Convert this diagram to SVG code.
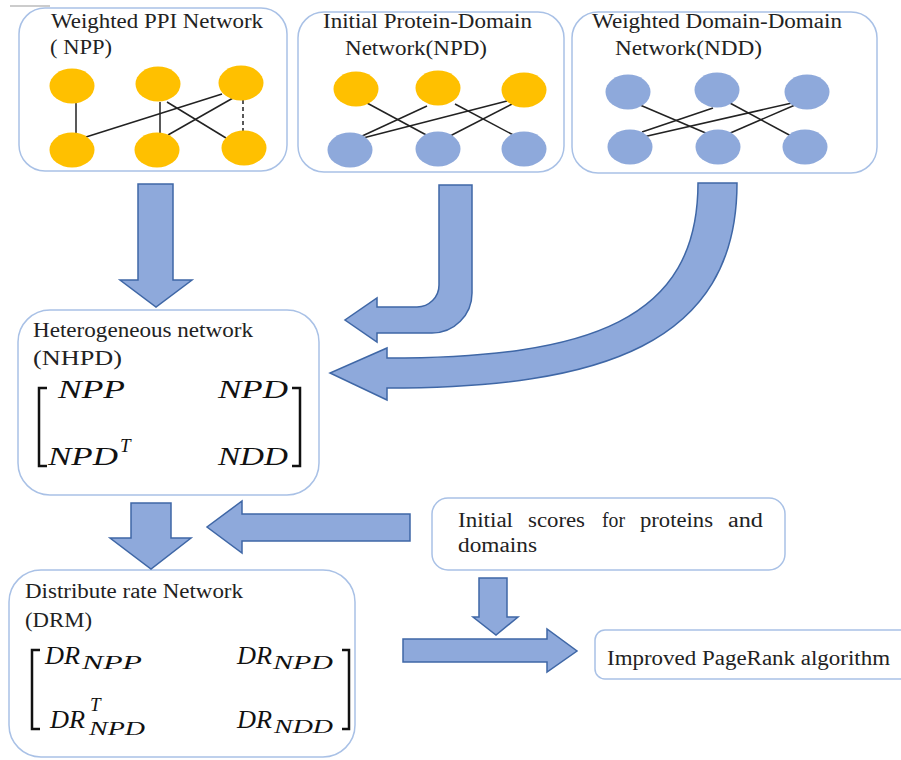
<svg xmlns="http://www.w3.org/2000/svg" width="901" height="760" viewBox="0 0 901 760">
<defs>
<style>
.box{fill:#fff;stroke:#A9C1E6;stroke-width:1.5}
.t{font-family:"Liberation Serif","Times New Roman",serif;font-size:20px;fill:#222}
.m{font-family:"Liberation Serif","Times New Roman",serif;font-style:italic;font-size:26px;fill:#111}
.s{font-family:"Liberation Serif","Times New Roman",serif;font-style:italic;font-size:19px;fill:#111}
.y{fill:#FFC000}
.b{fill:#8EA9DB}
.e{stroke:#222;stroke-width:1.5;fill:none}
.arr{fill:#8EA9DB;stroke:#3F67A6;stroke-width:1.5;stroke-linejoin:miter}
.br{fill:none;stroke:#111;stroke-width:2.5}
</style>
</defs>
<rect width="901" height="760" fill="#fff"/>
<line x1="10" y1="6" x2="50" y2="6" stroke="#999" stroke-width="1"/>

<g id="npp">
<rect class="box" x="19" y="8" width="268" height="163" rx="26"/>
<text class="t" x="51" y="28" textLength="212" lengthAdjust="spacingAndGlyphs">Weighted PPI Network</text>
<text class="t" x="50" y="54" textLength="62" lengthAdjust="spacingAndGlyphs">( NPP)</text>
<g class="e">
<line x1="76" y1="103" x2="76" y2="134"/>
<line x1="86" y1="137" x2="222" y2="94"/>
<line x1="160" y1="102" x2="160" y2="135"/>
<line x1="167" y1="102" x2="226" y2="138"/>
<line x1="168" y1="135" x2="233" y2="98"/>
<line x1="243" y1="100" x2="243" y2="133" stroke-dasharray="4,3"/>
</g>
<ellipse class="y" cx="72" cy="86" rx="22.5" ry="17.5"/>
<ellipse class="y" cx="158" cy="84" rx="22.5" ry="17.5"/>
<ellipse class="y" cx="241" cy="83" rx="22.5" ry="17.5"/>
<ellipse class="y" cx="72" cy="150" rx="22.5" ry="17.5"/>
<ellipse class="y" cx="157" cy="150" rx="22.5" ry="17.5"/>
<ellipse class="y" cx="244" cy="148" rx="22.5" ry="17.5"/>
</g>

<g id="npd">
<rect class="box" x="298" y="12" width="266" height="160" rx="26"/>
<text class="t" x="323" y="28" textLength="209" lengthAdjust="spacingAndGlyphs">Initial Protein-Domain</text>
<text class="t" x="345" y="55" textLength="142" lengthAdjust="spacingAndGlyphs">Network(NPD)</text>
<g class="e">
<line x1="367" y1="103" x2="430" y2="137"/>
<line x1="427" y1="106" x2="360" y2="137"/>
<line x1="455" y1="104" x2="517" y2="137"/>
<line x1="507" y1="101" x2="363" y2="138"/>
<line x1="512" y1="104" x2="448" y2="137"/>
</g>
<ellipse class="y" cx="356" cy="89" rx="22.5" ry="17.5"/>
<ellipse class="y" cx="438" cy="88" rx="22.5" ry="17.5"/>
<ellipse class="y" cx="524" cy="90" rx="22.5" ry="17.5"/>
<ellipse class="b" cx="350" cy="150" rx="22.5" ry="17.5"/>
<ellipse class="b" cx="438" cy="149" rx="22.5" ry="17.5"/>
<ellipse class="b" cx="524" cy="149" rx="22.5" ry="17.5"/>
</g>

<g id="ndd">
<rect class="box" x="572" y="12" width="305" height="161" rx="26"/>
<text class="t" x="592" y="28" textLength="250" lengthAdjust="spacingAndGlyphs">Weighted Domain-Domain</text>
<text class="t" x="615" y="55" textLength="147" lengthAdjust="spacingAndGlyphs">Network(NDD)</text>
<g class="e">
<line x1="640" y1="105" x2="708" y2="134"/>
<line x1="713" y1="108" x2="642" y2="132"/>
<line x1="728" y1="102" x2="793" y2="137"/>
<line x1="792" y1="103" x2="643" y2="137"/>
<line x1="795" y1="105" x2="728" y2="134"/>
</g>
<ellipse class="b" cx="628" cy="92" rx="22.5" ry="17.5"/>
<ellipse class="b" cx="717" cy="90" rx="22.5" ry="17.5"/>
<ellipse class="b" cx="807" cy="92" rx="22.5" ry="17.5"/>
<ellipse class="b" cx="630" cy="147" rx="22.5" ry="17.5"/>
<ellipse class="b" cx="718" cy="147" rx="22.5" ry="17.5"/>
<ellipse class="b" cx="805" cy="147" rx="22.5" ry="17.5"/>
</g>

<g id="nhpd">
<rect class="box" x="18" y="310" width="301" height="185" rx="32"/>
<text class="t" x="33" y="337" textLength="220" lengthAdjust="spacingAndGlyphs">Heterogeneous network</text>
<text class="t" x="33" y="365" textLength="89" lengthAdjust="spacingAndGlyphs">(NHPD)</text>
<path class="br" d="M47,388 H39 V466 H47"/>
<path class="br" d="M292,388 H300 V466 H292"/>
<text class="m" x="58" y="398" textLength="67" lengthAdjust="spacingAndGlyphs">NPP</text>
<text class="m" x="218" y="398" textLength="70" lengthAdjust="spacingAndGlyphs">NPD</text>
<text class="m" x="48" y="465" textLength="70" lengthAdjust="spacingAndGlyphs">NPD</text>
<text class="s" x="120" y="452" font-size="17">T</text>
<text class="m" x="218" y="465" textLength="70" lengthAdjust="spacingAndGlyphs">NDD</text>
</g>

<g id="scores">
<rect class="box" x="432" y="498" width="353" height="72" rx="16"/>
<text class="t" x="458" y="527" textLength="55" lengthAdjust="spacingAndGlyphs">Initial</text>
<text class="t" x="528" y="527" textLength="57" lengthAdjust="spacingAndGlyphs">scores</text>
<text class="t" x="602" y="527" textLength="23" lengthAdjust="spacingAndGlyphs">for</text>
<text class="t" x="640" y="527" textLength="73" lengthAdjust="spacingAndGlyphs">proteins</text>
<text class="t" x="728" y="527" textLength="35" lengthAdjust="spacingAndGlyphs">and</text>
<text class="t" x="458" y="552" textLength="79" lengthAdjust="spacingAndGlyphs">domains</text>
</g>

<g id="pagerank">
<rect class="box" x="595" y="630" width="330" height="49" rx="10"/>
<text class="t" x="607" y="665" textLength="283" lengthAdjust="spacingAndGlyphs">Improved PageRank algorithm</text>
</g>

<g id="drm">
<rect class="box" x="9" y="570" width="346" height="187" rx="32"/>
<text class="t" x="25" y="598" textLength="218" lengthAdjust="spacingAndGlyphs">Distribute rate Network</text>
<text class="t" x="25" y="627" textLength="67" lengthAdjust="spacingAndGlyphs">(DRM)</text>
<path class="br" d="M40,650 H32 V729 H40"/>
<path class="br" d="M342,650 H349 V729 H342"/>
<text class="m" x="45" y="664" textLength="35" lengthAdjust="spacingAndGlyphs">DR</text>
<text class="s" x="82" y="669" textLength="60" lengthAdjust="spacingAndGlyphs">NPP</text>
<text class="m" x="237" y="664" textLength="35" lengthAdjust="spacingAndGlyphs">DR</text>
<text class="s" x="273" y="669" textLength="60" lengthAdjust="spacingAndGlyphs">NPD</text>
<text class="m" x="50" y="728" textLength="35" lengthAdjust="spacingAndGlyphs">DR</text>
<text class="s" x="90" y="711" font-size="14">T</text>
<text class="s" x="89" y="735" textLength="56" lengthAdjust="spacingAndGlyphs">NPD</text>
<text class="m" x="237" y="728" textLength="35" lengthAdjust="spacingAndGlyphs">DR</text>
<text class="s" x="274" y="733" textLength="59" lengthAdjust="spacingAndGlyphs">NDD</text>
</g>

<g id="connectors">
<path class="arr" d="M138,184 H173 V280 H192 L156,307 L120,280 H138 Z"/>
<path class="arr" d="M439,185 H472 V293 A40,40 0 0 1 432,333 H377 V342 L345,320 L377,298 V307 H417 A22,22 0 0 0 439,285 Z"/>
<path class="arr" d="M698,183 H737 C737,345 600,388 387,388 V400 L330,373 L387,348 V358 C590,358 698,320 698,183 Z"/>
<path class="arr" d="M131,503 H171 V538 H191 L151,569 L110,538 H131 Z"/>
<path class="arr" d="M410,514 V541 H242 V553 L207,527 L242,501 V514 Z"/>
<path class="arr" d="M479,578 H507 V617 H518 L496,635 L473,617 H479 Z"/>
<path class="arr" d="M403,639 H547 V629 L577,651 L547,672 V662 H403 Z"/>
</g>
</svg>
